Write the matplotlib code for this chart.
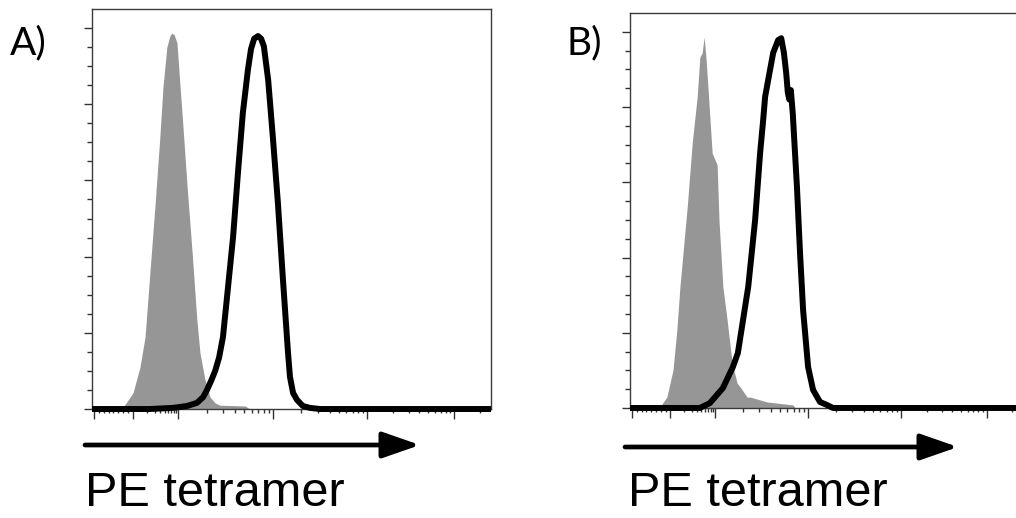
import matplotlib
matplotlib.use("Agg")
import matplotlib.pyplot as plt
from matplotlib.patches import FancyArrowPatch
import numpy as np

# histogram outlines, x in display channels (0-1024), y in % of max
gray_a_x = [72, 80, 105, 123, 136, 149, 162, 174, 182, 192, 200, 205, 211, 218, 226, 234, 244, 257, 269, 277, 290, 303, 316, 328, 393, 405]
gray_a_y = [0, 0.5, 4.2, 11.0, 18.9, 36.5, 54.1, 71.4, 84.5, 95.0, 98.0, 98.7, 98.2, 96.1, 84.5, 73.2, 58.3, 40.9, 23.4, 14.7, 7.6, 3.1, 1.6, 1.0, 0.8, 0]

black_a_x = [0, 149, 208, 244, 269, 285, 295, 306, 316, 326, 336, 349, 362, 375, 387, 400, 408, 416, 426, 434, 441, 452, 464, 477, 490, 503, 508, 516, 526, 541, 559, 585, 1024]
black_a_y = [0, 0, 0.3, 0.8, 1.6, 3.1, 5.0, 7.5, 10.0, 13.5, 18.9, 32.0, 45.2, 62.7, 77.7, 89.0, 94.5, 97.2, 97.9, 97.2, 95.2, 86.4, 71.4, 54.1, 33.9, 14.7, 8.4, 4.2, 2.4, 0.8, 0.3, 0, 0]

gray_b_x = [73, 78, 96, 112, 122, 130, 149, 162, 175, 182, 188, 193, 198, 203, 214, 227, 232, 242, 253, 266, 279, 287, 305, 313, 357, 425, 430]
gray_b_y = [0, 0.3, 2.9, 10.1, 20.7, 32.2, 53.4, 70.4, 82.7, 93.3, 94.4, 98.6, 93.0, 85.3, 67.8, 64.6, 49.5, 32.2, 23.4, 12.0, 6.6, 5.6, 2.9, 2.9, 1.6, 0.8, 0]

black_b_x = [0, 182, 208, 242, 268, 281, 308, 326, 339, 347, 352, 360, 373, 386, 394, 401, 407, 411, 415, 419, 424, 435, 443, 451, 464, 477, 495, 513, 529, 1024]
black_b_y = [0, 0, 1.3, 5.3, 10.9, 14.6, 32.2, 50.0, 67.8, 76.6, 82.7, 87.2, 94.4, 97.8, 98.3, 94.4, 89.0, 84.0, 82.0, 84.5, 78.4, 58.7, 41.2, 26.0, 10.9, 4.8, 1.6, 0.8, 0, 0]

panel_labels = ["A)", "B)"]
xlabel = "PE tetramer"

# biexponential-like axis: -10^2, 0, 10^2, 10^3, 10^4, 10^5
major_x = [5, 105, 221, 464, 706, 929]
minor_x = list(np.linspace(5, 105, 9)[1:-1])
logk = np.log10(np.arange(2, 10))
for a, b in zip(major_x[1:-1], major_x[2:]):
    minor_x += list(a + logk * (b - a))
minor_x.append(929 + np.log10(2) * 222)

fig = plt.figure(figsize=(10.16, 5.18), dpi=100)
ax_a = fig.add_axes([0.0906, 0.2104, 0.3927, 0.7722])
ax_b = fig.add_axes([0.6201, 0.2124, 0.3868, 0.7625])

panels = [
    (ax_a, gray_a_x, gray_a_y, black_a_x, black_a_y),
    (ax_b, gray_b_x, gray_b_y, black_b_x, black_b_y),
]

for ax, gx, gy, bx, by in panels:
    ax.fill_between(gx, gy, 0, color="#969696", lw=0, zorder=2)
    ax.plot(bx, by, color="black", lw=4.3, solid_joinstyle="round",
            solid_capstyle="butt", clip_on=False, zorder=3)
    ax.set_xlim(0, 1024)
    ax.set_ylim(0, 105)
    ax.set_xticks(major_x)
    ax.set_xticks(minor_x, minor=True)
    ax.set_yticks(np.arange(0, 101, 20))
    ax.set_yticks(np.arange(0, 101, 5), minor=True)
    ax.set_xticklabels([])
    ax.set_yticklabels([])
    ax.tick_params(axis="x", which="major", direction="out", length=7, width=1.0, color="#333333")
    ax.tick_params(axis="x", which="minor", direction="out", length=3, width=1.0, color="#333333")
    ax.tick_params(axis="y", which="major", direction="out", length=6, width=1.0, color="#333333")
    ax.tick_params(axis="y", which="minor", direction="out", length=3.5, width=1.0, color="#333333")
    for s in ax.spines.values():
        s.set_color("#3a3a3a")
        s.set_linewidth(1.0)

# arrows and axis captions below each panel
for x0, x1, yb, xt, lab, lx in [(85, 420, 73, 85, panel_labels[0], 10),
                                (625, 958, 71, 628, panel_labels[1], 566)]:
    fig.patches.append(FancyArrowPatch(
        (x0, yb), (x1, yb), transform=None, arrowstyle="-|>,head_length=2.3,head_width=0.8",
        mutation_scale=10, lw=3.4, color="black", shrinkA=0, shrinkB=0))
    fig.text(xt / 1016, 1.5 / 518, xlabel, fontsize=35, family="Liberation Sans",
             va="bottom", ha="left")
    fig.text(lx / 1016, (518 - 54) / 518, lab, fontsize=28, family="Lato",
             va="baseline", ha="left")

fig.savefig("out.png", dpi=100)
